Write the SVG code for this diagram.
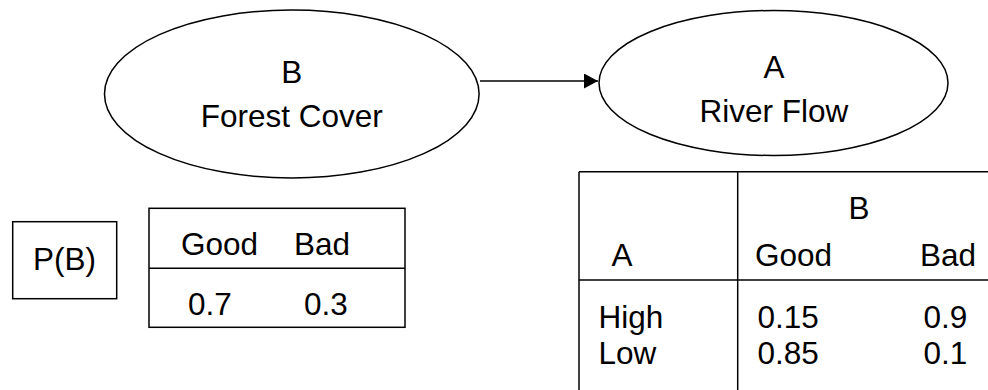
<svg xmlns="http://www.w3.org/2000/svg" width="988" height="390" viewBox="0 0 988 390">
  <defs>
    <style>
      .shape { fill: #ffffff; stroke: #000000; stroke-width: 1.5; }
      .line { fill: none; stroke: #000000; stroke-width: 1.5; }
      .label { font-family: "Liberation Sans", Arial, sans-serif; font-size: 31.5px; fill: #000000; }
      .mid { text-anchor: middle; }
    </style>
    <marker id="arrowhead" markerWidth="14" markerHeight="15" refX="14" refY="7.5" orient="auto" markerUnits="userSpaceOnUse">
      <path d="M0,0 L14,7.5 L0,15 Z" fill="#000000"/>
    </marker>
  </defs>

  <rect width="988" height="390" fill="#ffffff"/>

  <!-- Edge B -> A -->
  <g id="connectors">
    <line class="line" x1="480" y1="81" x2="598" y2="81" marker-end="url(#arrowhead)"/>
  </g>

  <!-- Node B: Forest Cover -->
  <g id="node-b">
    <ellipse class="shape" cx="291.8" cy="94" rx="187.3" ry="84"/>
    <text class="label mid" x="291.8" y="82.7">B</text>
    <text class="label mid" x="291.8" y="127.3">Forest Cover</text>
  </g>

  <!-- Node A: River Flow -->
  <g id="node-a">
    <ellipse class="shape" cx="773.5" cy="83" rx="174.5" ry="72.5"/>
    <text class="label mid" x="774" y="78.3">A</text>
    <text class="label mid" x="774" y="122.3">River Flow</text>
  </g>

  <!-- Prior label P(B) -->
  <g id="prior-label">
    <rect class="shape" x="12.7" y="221.7" width="104" height="77"/>
    <text class="label mid" x="64.5" y="270">P(B)</text>
  </g>

  <!-- Prior table for B -->
  <g id="prior-table">
    <rect class="shape" x="149" y="208.3" width="256" height="119"/>
    <line class="line" x1="149" y1="268.3" x2="405" y2="268.3"/>
    <text class="label" x="181" y="255">Good</text>
    <text class="label" x="294" y="255">Bad</text>
    <text class="label" x="188" y="315">0.7</text>
    <text class="label" x="304" y="315">0.3</text>
  </g>

  <!-- Conditional table P(A | B) -->
  <g id="cpt-table">
    <line class="line" x1="579" y1="171.7" x2="988" y2="171.7"/>
    <line class="line" x1="579" y1="171.7" x2="579" y2="390"/>
    <line class="line" x1="737.7" y1="171.7" x2="737.7" y2="390"/>
    <line class="line" x1="579" y1="280" x2="988" y2="280"/>
    <text class="label mid" x="859" y="219.3">B</text>
    <text class="label" x="611.5" y="266">A</text>
    <text class="label" x="755" y="266">Good</text>
    <text class="label" x="920" y="266">Bad</text>
    <text class="label" x="598.5" y="328.3">High</text>
    <text class="label" x="598.5" y="364">Low</text>
    <text class="label" x="757.5" y="328.3">0.15</text>
    <text class="label" x="923.5" y="328.3">0.9</text>
    <text class="label" x="757.5" y="364">0.85</text>
    <text class="label" x="923.5" y="364">0.1</text>
  </g>
</svg>
